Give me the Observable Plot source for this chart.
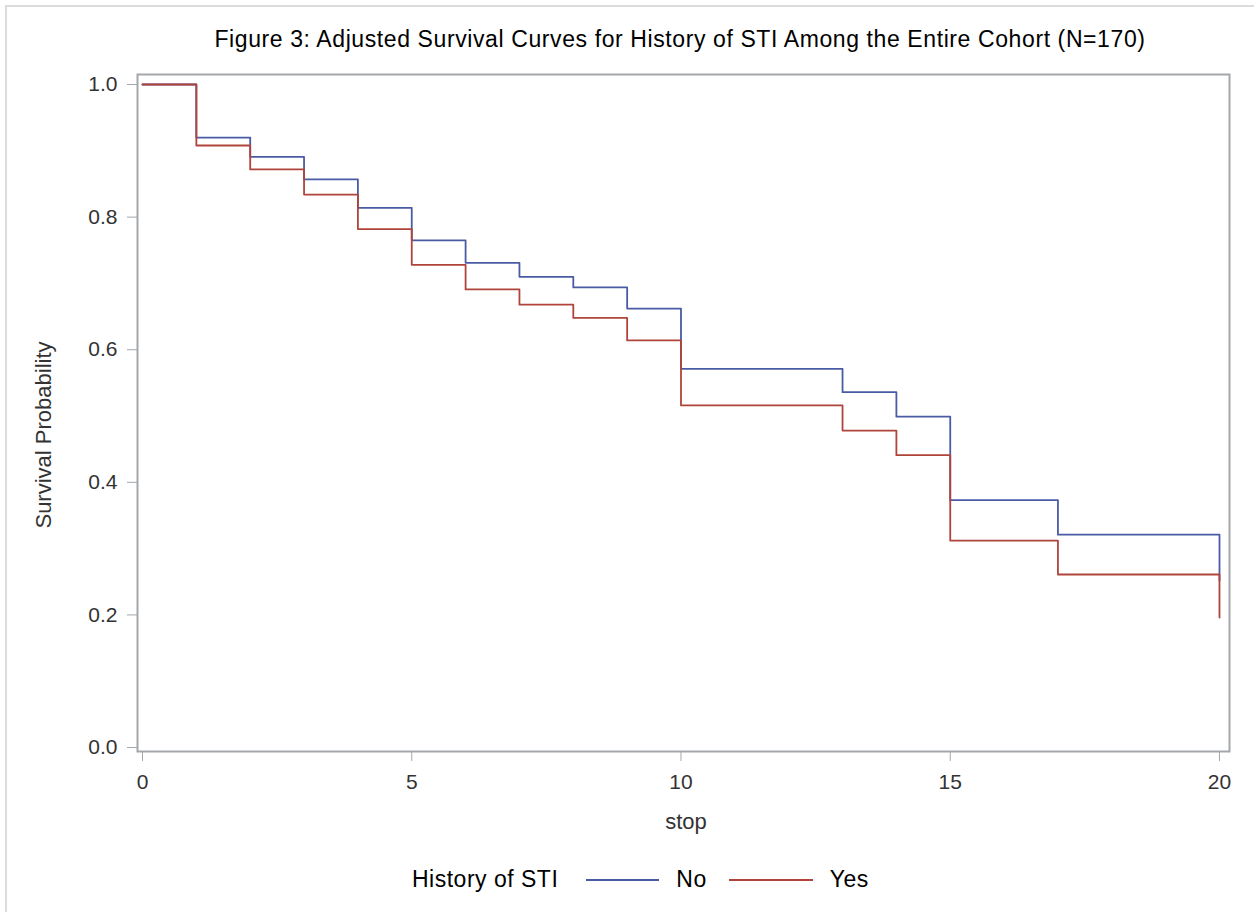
<!DOCTYPE html>
<html>
<head>
<meta charset="utf-8">
<script src="https://cdn.jsdelivr.net/npm/d3@7"></script>
<script src="https://cdn.jsdelivr.net/npm/@observablehq/plot@0.6"></script>
<style>
  html, body { margin: 0; padding: 0; background: #fff; overflow: hidden; }
  #wrap { position: relative; width: 1254px; height: 912px; background: #fff; overflow: hidden;
          font-family: "Liberation Sans", Arial, Helvetica, sans-serif; }
  #border { position: absolute; left: 5px; top: 5px; width: 1300px; height: 1000px;
            border: 2px solid #dcdcdc; box-sizing: border-box; }
  #title { position: absolute; top: 28px; left: 0; width: 1254px; text-align: center; line-height: 23px;
           padding-left: 106px; box-sizing: border-box; font-size: 23px; letter-spacing: 0.6px; color: #000; white-space: nowrap; }
  #chart { position: absolute; left: 0; top: 0; }
  #xlab { position: absolute; left: 686px; top: 822px; transform: translate(-50%, -50%);
          font-size: 22px; line-height: 22px; color: #333; white-space: nowrap; }
  #ylab { position: absolute; left: 44px; top: 435px; transform: translate(-50%, -50%) rotate(-90deg);
          font-size: 22px; line-height: 22px; color: #333; white-space: nowrap; }
  #legend { position: absolute; top: 868px; left: 412px; display: flex; align-items: center; line-height: 23px;
            font-size: 23px; letter-spacing: 0.5px; color: #000; white-space: nowrap; }
  #legend .sw { display: inline-block; height: 0; border-top: 2px solid; }
</style>
</head>
<body>
<div id="wrap">
  <div id="border"></div>
  <div id="chart"></div>
  <div id="title"></div>
  <div id="xlab"></div>
  <div id="ylab"></div>
  <div id="legend"></div>
</div>
<script>
// ---- data ----
const titleText = "Figure 3: Adjusted Survival Curves for History of STI Among the Entire Cohort (N=170)";
const legendTitle = "History of STI";
const groups = ["No", "Yes"];
const groupColors = ["#4a5ba6", "#b0443a"];
const times = [0, 1, 2, 3, 4, 5, 6, 7, 8, 9, 10, 13, 14, 15, 17, 20];
const survNo  = [1.000, 0.920, 0.891, 0.857, 0.814, 0.765, 0.731, 0.710, 0.694, 0.662, 0.571, 0.536, 0.499, 0.373, 0.321, 0.252];
const survYes = [1.000, 0.908, 0.872, 0.834, 0.782, 0.728, 0.691, 0.668, 0.648, 0.614, 0.516, 0.478, 0.441, 0.312, 0.261, 0.196];
const xTicks = [0, 5, 10, 15, 20];
const yTicks = [0.0, 0.2, 0.4, 0.6, 0.8, 1.0];
const xLabel = "stop";
const yLabel = "Survival Probability";

// ---- build ----
const rows = [];
times.forEach((t, i) => rows.push({time: t, surv: survNo[i], group: groups[0]}));
times.forEach((t, i) => rows.push({time: t, surv: survYes[i], group: groups[1]}));

const axisColor = "#a3a7ab";
const chart = Plot.plot({
  width: 1254,
  height: 800,
  marginLeft: 137,
  marginRight: 25,
  marginTop: 74,
  marginBottom: 49,
  style: {fontFamily: '"Liberation Sans", Arial, sans-serif', fontSize: "21px", color: "#333", background: "transparent"},
  x: {domain: [-0.093, 20.186]},
  y: {domain: [-0.006, 1.0151]},
  color: {domain: groups, range: groupColors},
  marks: [
    Plot.frame({stroke: axisColor, strokeWidth: 2}),
    Plot.axisX({ticks: xTicks, tickSize: 10, tickPadding: 13, stroke: axisColor, fill: "#333", label: null}),
    Plot.axisY({ticks: yTicks, tickFormat: d3.format(".1f"), tickSize: 10, tickPadding: 10, stroke: axisColor, fill: "#333", label: null}),
    Plot.line(rows, {x: "time", y: "surv", z: "group", stroke: "group", curve: "step-after", strokeWidth: 1.8})
  ]
});
document.getElementById("chart").appendChild(chart);

document.getElementById("title").textContent = titleText;
document.getElementById("xlab").textContent = xLabel;
document.getElementById("ylab").textContent = yLabel;

const legend = document.getElementById("legend");
const lt = document.createElement("span");
lt.textContent = legendTitle;
lt.style.marginRight = "28px";
legend.appendChild(lt);
const swW = [73, 84];
const labGap = [22, 0];
groups.forEach((g, i) => {
  const sw = document.createElement("span");
  sw.className = "sw";
  sw.style.width = swW[i] + "px";
  sw.style.borderTopColor = groupColors[i];
  sw.style.marginRight = "17px";
  legend.appendChild(sw);
  const lab = document.createElement("span");
  lab.textContent = g;
  lab.style.marginRight = labGap[i] + "px";
  legend.appendChild(lab);
});
</script>
</body>
</html>
